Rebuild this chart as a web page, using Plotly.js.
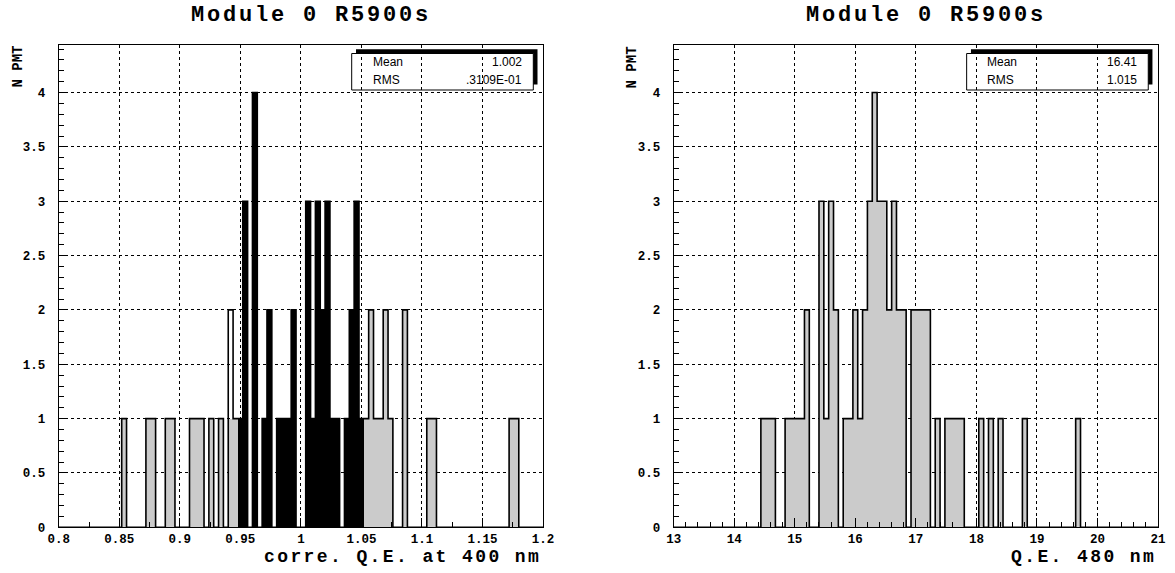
<!DOCTYPE html>
<html>
<head>
<meta charset="utf-8">
<script src="https://cdn.plot.ly/plotly-3.0.1.min.js"></script>
<style>
  html, body { margin: 0; padding: 0; background: #fff; }
  #chart { width: 1175px; height: 573px; }
</style>
</head>
<body>
<div id="chart"></div>
<script>
// ---------------- DATA ----------------
// Left histogram: "corre. Q.E. at 400 nm", 100 bins from 0.8 to 1.2
const leftRange = [0.8, 1.2];
const leftNBins = 100;
// total counts per bin (outline)
const leftTotal = [
  0,0,0,0,0,0,0,0,0,0,
  0,0,0,1,0,0,0,0,1,1,
  0,0,1,1,0,0,0,1,1,1,
  0,1,0,1,0,2,1,1,3,0,
  4,0,1,2,0,1,1,1,2,0,
  0,3,1,3,2,3,1,1,0,1,
  2,3,1,1,2,1,1,2,1,0,
  0,2,0,0,0,0,1,1,0,0,
  0,0,0,0,0,0,0,0,0,0,
  0,0,0,1,1,0,0,0,0,0
];
// black-filled sub-histogram
const leftBlack = [
  0,0,0,0,0,0,0,0,0,0,
  0,0,0,0,0,0,0,0,0,0,
  0,0,0,0,0,0,0,0,0,0,
  0,0,0,0,0,0,0,1,3,0,
  4,0,1,2,0,1,1,1,2,0,
  0,3,1,3,2,3,1,1,0,1,
  2,3,1,0,0,0,0,0,0,0,
  0,0,0,0,0,0,0,0,0,0,
  0,0,0,0,0,0,0,0,0,0,
  0,0,0,0,0,0,0,0,0,0
];
// grey-filled sub-histogram
const leftGrey = [
  0,0,0,0,0,0,0,0,0,0,
  0,0,0,1,0,0,0,0,1,1,
  0,0,1,1,0,0,0,1,1,1,
  0,1,0,1,0,1,1,0,0,0,
  0,0,0,0,0,0,0,0,0,0,
  0,0,0,0,0,0,0,0,0,0,
  0,0,0,1,2,1,1,2,1,0,
  0,2,0,0,0,0,1,1,0,0,
  0,0,0,0,0,0,0,0,0,0,
  0,0,0,1,1,0,0,0,0,0
];
// Right histogram: "Q.E. 480 nm", 100 bins from 13 to 21
const rightRange = [13, 21];
const rightNBins = 100;
const rightCounts = [
  0,0,0,0,0,0,0,0,0,0,
  0,0,0,0,0,0,0,0,1,1,
  1,0,0,1,1,1,1,2,0,0,
  3,1,3,2,0,1,1,2,1,2,
  3,4,3,3,2,3,2,2,0,2,
  2,2,2,0,1,0,1,1,1,1,
  0,0,0,1,0,1,0,1,0,0,
  0,0,1,0,0,0,0,0,0,0,
  0,0,0,1,0,0,0,0,0,0,
  0,0,0,0,0,0,0,0,0,0
];

const leftTickVals = [0.8, 0.85, 0.9, 0.95, 1, 1.05, 1.1, 1.15, 1.2];
const leftTickText = ['0.8','0.85','0.9','0.95','1','1.05','1.1','1.15','1.2'];
const rightTickVals = [13, 14, 15, 16, 17, 18, 19, 20, 21];
const rightTickText = ['13','14','15','16','17','18','19','20','21'];
const yTickVals = [0, 0.5, 1, 1.5, 2, 2.5, 3, 3.5, 4];
const yTickText = ['0','0.5','1','1.5','2','2.5','3','3.5','4'];

const plotTitles = ['Module 0 R5900s', 'Module 0 R5900s'];
const xTitles = ['corre. Q.E. at 400 nm', 'Q.E. 480 nm'];
const yTitle = 'N PMT';
const statNames = ['Mean', 'RMS'];
const leftStats = ['1.002', '.3109E-01'];
const rightStats = ['16.41', '1.015'];

// ---------------- HELPERS ----------------
const W = 1175, H = 573;
const px = x => x / W;
const py = y => 1 - y / H;

function binGeom(range, n) {
  const w = (range[1] - range[0]) / n;
  const centers = [], edges = [];
  for (let i = 0; i < n; i++) centers.push(range[0] + w * (i + 0.5));
  for (let i = 0; i <= n; i++) edges.push(range[0] + w * i);
  return { w, centers, edges };
}
function stepY(counts) { return counts.concat([counts[counts.length - 1]]); }

const LG = binGeom(leftRange, leftNBins);
const RG = binGeom(rightRange, rightNBins);

const GREY = '#cbcbcb';
const traces = [
  { type: 'bar', x: LG.centers, y: leftGrey, width: LG.w, xaxis: 'x', yaxis: 'y',
    marker: { color: GREY, line: { width: 0 } }, hoverinfo: 'skip' },
  { type: 'bar', x: LG.centers, y: leftBlack, width: LG.w, xaxis: 'x', yaxis: 'y',
    marker: { color: '#000', line: { width: 0 } }, hoverinfo: 'skip' },
  { type: 'scatter', mode: 'lines', x: LG.edges, y: stepY(leftTotal), xaxis: 'x', yaxis: 'y',
    line: { color: '#000', width: 1.6, shape: 'hv' }, cliponaxis: false, hoverinfo: 'skip' },
  { type: 'bar', x: RG.centers, y: rightCounts, width: RG.w, xaxis: 'x2', yaxis: 'y2',
    marker: { color: GREY, line: { width: 0 } }, hoverinfo: 'skip' },
  { type: 'scatter', mode: 'lines', x: RG.edges, y: stepY(rightCounts), xaxis: 'x2', yaxis: 'y2',
    line: { color: '#000', width: 1.6, shape: 'hv' }, cliponaxis: false, hoverinfo: 'skip' }
];

const MONO = '"Liberation Mono", "Courier New", monospace';
const SANS = '"Liberation Sans", Arial, sans-serif';
const tickFont = { family: MONO, size: 12.5, color: '#000', weight: 'bold' };

const yTop = 44.7, yBot = 527.3;
const Lx0 = 58.75, Lx1 = 543, Rx0 = 673.7, Rx1 = 1158;

function xAxis(domainPx, range, vals, text, minorDtick, anchor) {
  return {
    domain: [px(domainPx[0]), px(domainPx[1])], range: range, anchor: anchor,
    tickmode: 'array', tickvals: vals, ticktext: text,
    ticks: 'inside', ticklen: 9, tickwidth: 1, tickcolor: '#000',
    minor: { tickmode: 'linear', tick0: range[0], dtick: minorDtick, ticks: 'inside', ticklen: 5, tickwidth: 1, tickcolor: '#000', showgrid: false },
    showgrid: true, gridcolor: '#000', griddash: 'dot', gridwidth: 1,
    showline: true, mirror: true, linecolor: '#000', linewidth: 1,
    zeroline: false, tickfont: tickFont, ticklabelstandoff: 0,
    automargin: false, fixedrange: true
  };
}
function yAxis(anchor) {
  return {
    domain: [py(yBot), py(yTop)], range: [0, 4.44], anchor: anchor,
    tickmode: 'array', tickvals: yTickVals, ticktext: yTickText,
    ticks: 'inside', ticklen: 9, tickwidth: 1, tickcolor: '#000',
    minor: { tickmode: 'linear', tick0: 0, dtick: 0.1, ticks: 'inside', ticklen: 5, tickwidth: 1, tickcolor: '#000', showgrid: false },
    showgrid: true, gridcolor: '#000', griddash: 'dot', gridwidth: 1,
    showline: true, mirror: true, linecolor: '#000', linewidth: 1,
    zeroline: false, tickfont: tickFont, ticklabelstandoff: 10,
    automargin: false, fixedrange: true
  };
}

function statBox(dx, values) {
  const shapes = [
    { type: 'rect', xref: 'paper', yref: 'paper', layer: 'below',
      x0: px(356 + dx), x1: px(537.5 + dx), y0: py(84.5), y1: py(49.3),
      fillcolor: '#000', line: { width: 0 } },
    { type: 'rect', xref: 'paper', yref: 'paper', layer: 'below',
      x0: px(351.7 + dx), x1: px(533.3 + dx), y0: py(90), y1: py(53.5),
      fillcolor: '#fff', line: { color: '#000', width: 1 } }
  ];
  const rows = [62.5, 80];
  const anns = [];
  for (let i = 0; i < 2; i++) {
    anns.push({ xref: 'paper', yref: 'paper', x: px(370.5 + dx), y: py(rows[i]), xanchor: 'left', yanchor: 'middle',
      text: statNames[i], showarrow: false, font: { family: SANS, size: 12, color: '#000' } });
    anns.push({ xref: 'paper', yref: 'paper', x: px(524 + dx), y: py(rows[i]), xanchor: 'right', yanchor: 'middle',
      text: values[i], showarrow: false, font: { family: SANS, size: 12, color: '#000' } });
  }
  return { shapes, anns };
}
const SL = statBox(0, leftStats);
const SR = statBox(Rx0 - Lx0, rightStats);

const spaced = (t, s) => '<span style="letter-spacing:' + s + 'px">' + t + '</span>';
const titleFont = { family: MONO, size: 22, color: '#000', weight: 'bold' };
const axTitleFont = { family: MONO, size: 18, color: '#000', weight: 'bold' };
const yTitleFont = { family: MONO, size: 14, color: '#000', weight: 'bold' };

const annotations = [
  { xref: 'paper', yref: 'paper', x: px(311), y: py(15.5), xanchor: 'center', yanchor: 'middle',
    text: spaced(plotTitles[0], 2.8), showarrow: false, font: titleFont },
  { xref: 'paper', yref: 'paper', x: px(311 + Rx0 - Lx0), y: py(15.5), xanchor: 'center', yanchor: 'middle',
    text: spaced(plotTitles[1], 2.8), showarrow: false, font: titleFont },
  { xref: 'paper', yref: 'paper', x: px(Lx1), y: py(557), xanchor: 'right', yanchor: 'middle',
    text: spaced(xTitles[0], 2.4), showarrow: false, font: axTitleFont },
  { xref: 'paper', yref: 'paper', x: px(Rx1), y: py(557), xanchor: 'right', yanchor: 'middle',
    text: spaced(xTitles[1], 2.4), showarrow: false, font: axTitleFont },
  { xref: 'paper', yref: 'paper', x: px(17.5), y: py(44), xanchor: 'center', yanchor: 'top', textangle: -90,
    text: yTitle, showarrow: false, font: yTitleFont },
  { xref: 'paper', yref: 'paper', x: px(17.5 + Rx0 - Lx0), y: py(44), xanchor: 'center', yanchor: 'top', textangle: -90,
    text: yTitle, showarrow: false, font: yTitleFont }
].concat(SL.anns, SR.anns);

const layout = {
  width: W, height: H,
  margin: { l: 0, r: 0, t: 0, b: 0, pad: 0 },
  paper_bgcolor: '#fff', plot_bgcolor: '#fff',
  showlegend: false, barmode: 'overlay', bargap: 0,
  xaxis: xAxis([Lx0, Lx1], leftRange, leftTickVals, leftTickText, 0.025, 'y'),
  yaxis: yAxis('x'),
  xaxis2: xAxis([Rx0, Rx1], rightRange, rightTickVals, rightTickText, 0.2, 'y2'),
  yaxis2: yAxis('x2'),
  shapes: SL.shapes.concat(SR.shapes),
  annotations: annotations
};

Plotly.newPlot('chart', traces, layout, { staticPlot: true, displayModeBar: false });
</script>
</body>
</html>
